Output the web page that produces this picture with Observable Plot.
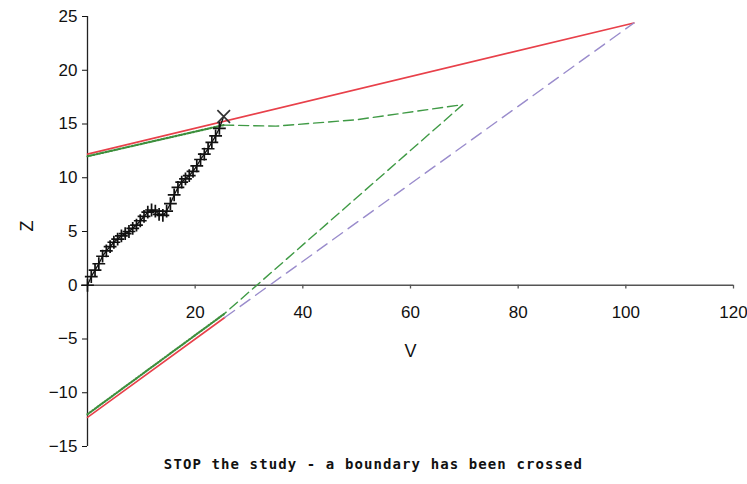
<!DOCTYPE html>
<html>
<head>
<meta charset="utf-8">
<script src="https://cdn.jsdelivr.net/npm/d3@7"></script>
<script src="https://cdn.jsdelivr.net/npm/@observablehq/plot@0.6"></script>
<style>
  body { margin: 0; background: #fff; }
  #caption { width: 747px; height: 28px; line-height: 16px; text-align: center;
    font-family: "DejaVu Sans Mono", monospace; font-size: 14px; font-weight: bold; letter-spacing: 1.1px; color: #111; }
</style>
</head>
<body>
<div id="chart"></div>
<div id="caption">STOP the study - a boundary has been crossed</div>
<script>
// Tick values
const xTicks = [20, 40, 60, 80, 100, 120];
const yTicks = [-15, -10, -5, 0, 5, 10, 15, 20, 25];

// Observed sample path (V, Z)
const pathV = [0, 0.7, 1.4, 2.1, 2.8, 3.5, 4.2, 4.9, 5.6, 6.3, 7.0, 7.7, 8.4, 9.1, 9.8, 10.5, 11.2, 11.9, 12.6, 13.3, 14.0, 14.7, 15.4, 16.1, 16.8, 17.5, 18.2, 18.9, 19.6, 20.3, 21.0, 21.7, 22.4, 23.1, 23.8, 24.5, 25.3];
const pathZ = [0, 0.8, 1.4, 2.0, 2.7, 3.2, 3.6, 4.0, 4.3, 4.6, 4.8, 5.0, 5.3, 5.6, 6.0, 6.4, 6.8, 7.0, 6.9, 6.6, 6.5, 6.9, 7.6, 8.4, 9.1, 9.6, 9.9, 10.2, 10.6, 11.1, 11.7, 12.2, 12.7, 13.3, 13.9, 14.6, 15.7];

// Triangular boundaries (red: upper full, lower up to stop; purple: lower continuation)
const upperV = [0, 101.5];
const upperZ = [12.2, 24.4];
const lowerV = [0, 25.5];
const lowerZ = [-12.3, -3.0];
const lowerContV = [25.5, 101.5];
const lowerContZ = [-3.0, 24.4];

// Corrected (green) boundaries: observed part and continuation
const gUpV = [0, 25.3];
const gUpZ = [12.0, 14.9];
const gLowV = [0, 25.3];
const gLowZ = [-12.0, -2.7];
const gContV = [25.3, 35, 50, 69.7, 25.3];
const gContZ = [14.9, 14.8, 15.4, 16.8, -2.7];

const pts = (V, Z) => V.map((v, i) => ({v, z: Z[i]}));
const path = pts(pathV, pathZ);

const chart = Plot.plot({
  width: 747,
  height: 456,
  marginLeft: 87,
  marginRight: 14,
  marginTop: 16,
  marginBottom: 10,
  style: {fontFamily: "Liberation Sans, Arial, sans-serif", fontSize: "17px", color: "#111", background: "#fff"},
  x: {domain: [0, 120], axis: null},
  y: {domain: [-15, 25]},
  marks: [
    Plot.axisY({ticks: yTicks, tickSize: 5, tickPadding: 5, label: null, fontSize: 17}),
    Plot.ruleX([0], {y1: -15, y2: 25, stroke: "#222", strokeWidth: 1.3}),
    Plot.ruleY([0], {x1: 0, x2: 120, stroke: "#555", strokeWidth: 1.6}),
    Plot.ruleX(xTicks, {x: d => d, y1: 0, y2: -0.35, stroke: "#555", strokeWidth: 1.3}),
    Plot.text(xTicks, {x: d => d, y: 0, dy: 27, text: d => String(d), fontSize: 17, fill: "#111"}),
    Plot.text(["V"], {frameAnchor: "top", dy: 328, text: d => d, fontSize: 18, fill: "#111"}),
    Plot.text(["Z"], {frameAnchor: "left", dx: -60, rotate: -90, text: d => d, fontSize: 18, fill: "#111"}),

    Plot.line(pts(upperV, upperZ), {x: "v", y: "z", stroke: "#e8404a", strokeWidth: 1.6}),
    Plot.line(pts(lowerV, lowerZ), {x: "v", y: "z", stroke: "#e8404a", strokeWidth: 1.6}),
    Plot.line(pts(lowerContV, lowerContZ), {x: "v", y: "z", stroke: "#9a8ccc", strokeWidth: 1.4, strokeDasharray: "12,7"}),
    Plot.line(pts(gContV, gContZ), {x: "v", y: "z", stroke: "#3f9a45", strokeWidth: 1.4, strokeDasharray: "10,5"}),
    Plot.line(pts(gUpV, gUpZ), {x: "v", y: "z", stroke: "#3d8f3d", strokeWidth: 2.2, strokeDasharray: "1.5,1.5"}),
    Plot.line(pts(gLowV, gLowZ), {x: "v", y: "z", stroke: "#3d8f3d", strokeWidth: 2.2, strokeDasharray: "1.5,1.5"}),

    Plot.line(path, {x: "v", y: "z", stroke: "#111", strokeWidth: 1.3}),
    Plot.dot(path.slice(0, -1), {x: "v", y: "z", symbol: "plus", r: 4.2, stroke: "#111", strokeWidth: 1.7}),
    Plot.dot(path.slice(-1), {x: "v", y: "z", symbol: "times", r: 5.8, stroke: "#333", strokeWidth: 1.7})
  ]
});
document.getElementById("chart").appendChild(chart);
</script>
</body>
</html>
